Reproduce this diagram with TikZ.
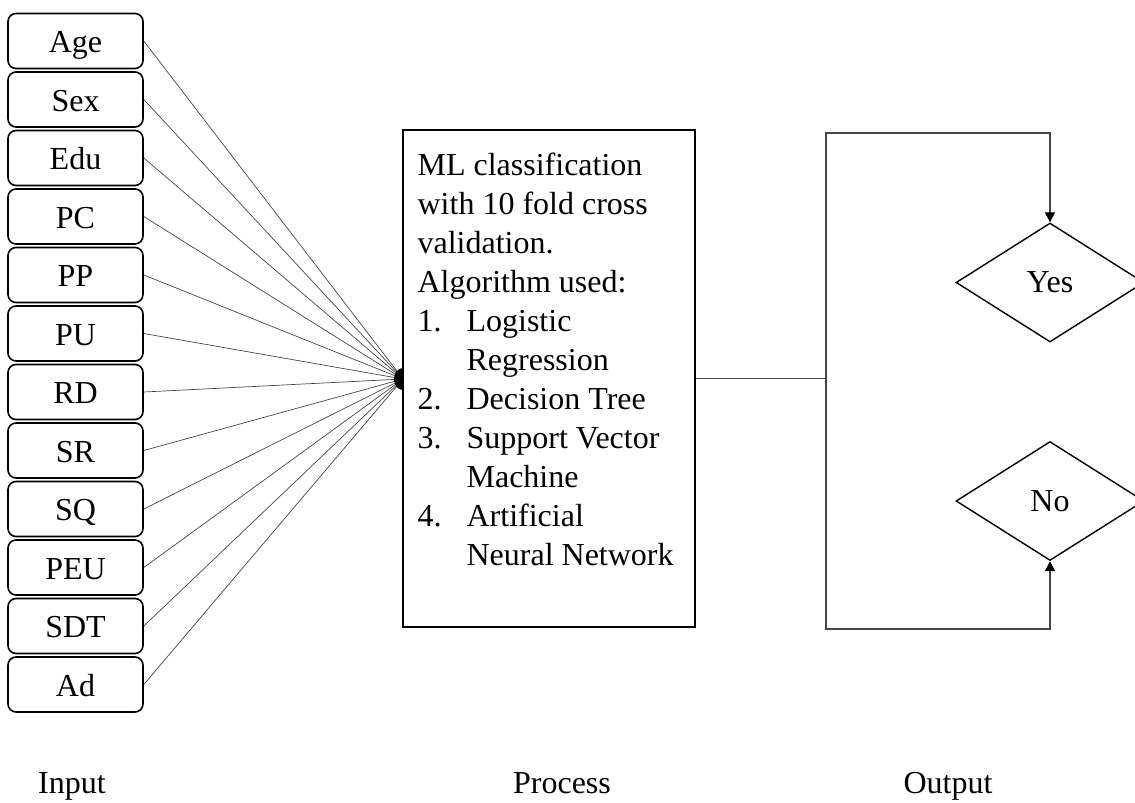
\documentclass[tikz,border=0pt]{standalone}
\usepackage{fontspec}
\setmainfont{Liberation Serif}
\usetikzlibrary{positioning,arrows.meta,shapes.geometric}
\definecolor{wire}{RGB}{70,70,70}

\begin{document}
\begin{tikzpicture}[x=0.5pt,y=-0.5pt,
  every node/.style={font=\fontsize{16}{19.5}\selectfont},
  invar/.style={draw,rounded corners=4pt,line width=0.8pt,minimum width=67.5pt,minimum height=27.5pt,inner sep=0pt,text height=11.5pt,text depth=0pt},
  fan/.style={draw=wire,line width=0.35pt},
  link/.style={draw=wire,line width=0.65pt},
  outcome/.style={draw,diamond,line width=0.7pt,minimum width=94pt,minimum height=59.5pt,inner sep=0pt},
  tip/.style={-{Triangle[length=5pt,width=5pt,color=black]}}]
  \clip (0,0) rectangle (1135,803);
  % input variables
  \foreach \name [count=\i] in {Age,Sex,Edu,PC,PP,PU,RD,SR,SQ,PEU,SDT,Ad}
    \node[invar] (in\i) at (75.5,{41+58.5*(\i-1)}) {\name};
  % fan into the process box
  \coordinate (hub) at (403,379);
  \foreach \i in {1,...,12}
    \draw[fan] (in\i.east) -- (hub);
  \fill (hub) ellipse [x radius=9, y radius=11];
  % process
  \node[draw,fill=white,line width=0.8pt,minimum width=146pt,minimum height=248.5pt,inner sep=0pt] (proc) at (549,378.5) {};
  \node[anchor=north west,align=left,inner sep=0pt] (proctext) at ([xshift=7.5pt,yshift=-11.5pt]proc.north west)
    {ML classification\\
     with 10 fold cross\\
     validation.\\
     Algorithm used:\\
     \makebox[24.5pt][l]{1.}Logistic\\
     \hspace*{24.5pt}Regression\\
     \makebox[24.5pt][l]{2.}Decision Tree\\
     \makebox[24.5pt][l]{3.}Support Vector\\
     \hspace*{24.5pt}Machine\\
     \makebox[24.5pt][l]{4.}Artificial\\
     \hspace*{24.5pt}Neural Network};
  % output
  \node[outcome] (yes) at (1050,282.5) {Yes};
  \node[outcome] (no) at (1050,501) {No};
  \coordinate (top) at (826,133);
  \coordinate (bot) at (826,629);
  \coordinate (split) at (proc.east -| top);
  \draw[link] (proc.east) -- (split);
  \draw[link,tip] (split) -- (top) -| (yes.north);
  \draw[link,tip] (split) -- (bot) -| (no.south);
  % stage labels
  \node[anchor=base] (linput) at (72,793) {Input};
  \node[anchor=base] (lprocess) at (562,793) {Process};
  \node[anchor=base] (loutput) at (948,793) {Output};
\end{tikzpicture}
\end{document}
